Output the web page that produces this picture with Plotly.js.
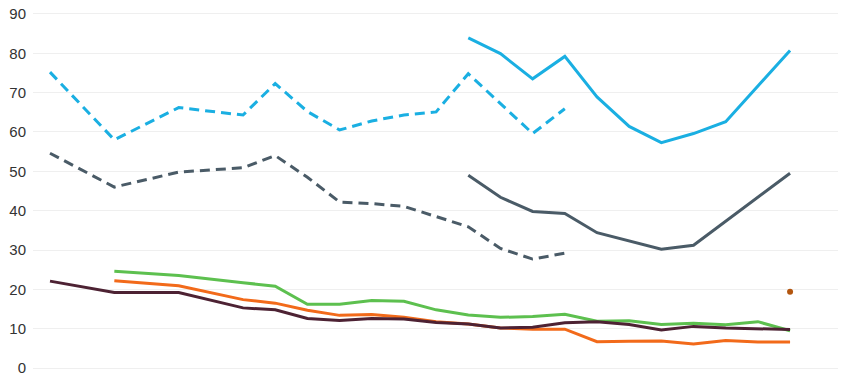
<!DOCTYPE html>
<html>
<head>
<meta charset="utf-8">
<script src="https://cdn.plot.ly/plotly-3.0.1.min.js"></script>
<style>html,body{margin:0;padding:0;background:#fff;}#chart{width:850px;height:376px;}</style>
</head>
<body>
<div id="chart"></div>
<script>
const xIdx = [0,1,2,3,4,5,6,7,8,9,10,11,12,13,14,15,16,17,18,19,20,21,22,23];
const blueDashed = [75.2,null,58.0,null,66.2,null,64.3,72.3,65.2,60.5,62.8,64.3,65.1,74.8,67.1,59.6,65.9,null,null,null,null,null,null,null];
const blueSolid = [null,null,null,null,null,null,null,null,null,null,null,null,null,83.9,79.9,73.5,79.2,68.9,61.4,57.3,59.6,62.6,71.6,80.7];
const greyDashed = [54.6,null,46.0,null,49.8,null,50.9,54.0,48.5,42.2,41.8,41.1,38.6,35.9,30.4,27.7,29.2,null,null,null,null,null,null,null];
const greySolid = [null,null,null,null,null,null,null,null,null,null,null,null,null,49.0,43.4,39.8,39.3,34.4,32.2,30.2,31.2,37.3,43.4,49.5];
const green = [null,null,24.6,null,23.5,null,21.7,20.8,16.2,16.2,17.2,17.0,14.8,13.5,12.9,13.1,13.7,11.9,12.0,11.1,11.4,11.0,11.8,9.5];
const orange = [null,null,22.2,null,20.9,null,17.4,16.5,14.7,13.4,13.6,12.9,11.8,11.2,10.2,9.9,9.9,6.7,6.8,6.9,6.1,7.0,6.6,6.6];
const maroon = [22.1,null,19.2,null,19.2,null,15.3,14.8,12.6,12.1,12.6,12.5,11.6,11.2,10.2,10.4,11.5,11.8,11.1,9.7,10.6,10.2,10.0,9.8];
const dotX = [23];
const dotY = [19.4];
const yTicks = [0,10,20,30,40,50,60,70,80,90];

function line(y, color, dash) {
  return {x: xIdx, y: y, type: 'scatter', mode: 'lines', connectgaps: true,
    line: {color: color, width: 3, dash: dash || 'solid'}, hoverinfo: 'skip'};
}
const data = [
  line(blueDashed, '#1aafe2', '10px,6px'),
  line(blueSolid, '#1aafe2'),
  line(greyDashed, '#4a5b67', '10px,6px'),
  line(greySolid, '#4a5b67'),
  line(green, '#5dc04f'),
  line(orange, '#f26a1a'),
  line(maroon, '#4d2233'),
  {x: dotX, y: dotY, type: 'scatter', mode: 'markers', marker: {color: '#b3560f', size: 6}, hoverinfo: 'skip'}
];
const layout = {
  width: 850, height: 376,
  margin: {l: 33, r: 12, t: 8, b: 2},
  paper_bgcolor: '#fff', plot_bgcolor: '#fff',
  showlegend: false,
  xaxis: {range: [-0.528, 24.49], showgrid: false, zeroline: false, showticklabels: false, showline: false, ticks: ''},
  yaxis: {range: [-1.5, 91.5], tickvals: yTicks, ticktext: yTicks.map(String), showgrid: true, gridcolor: '#efefef', gridwidth: 1,
    zeroline: false, showline: false, ticks: '', ticklabelstandoff: 6, ticklabeloverflow: 'allow',
    tickfont: {family: 'Liberation Sans, Arial, sans-serif', size: 15, color: '#333'}}
};
Plotly.newPlot('chart', data, layout, {displayModeBar: false, staticPlot: true});
</script>
</body>
</html>
